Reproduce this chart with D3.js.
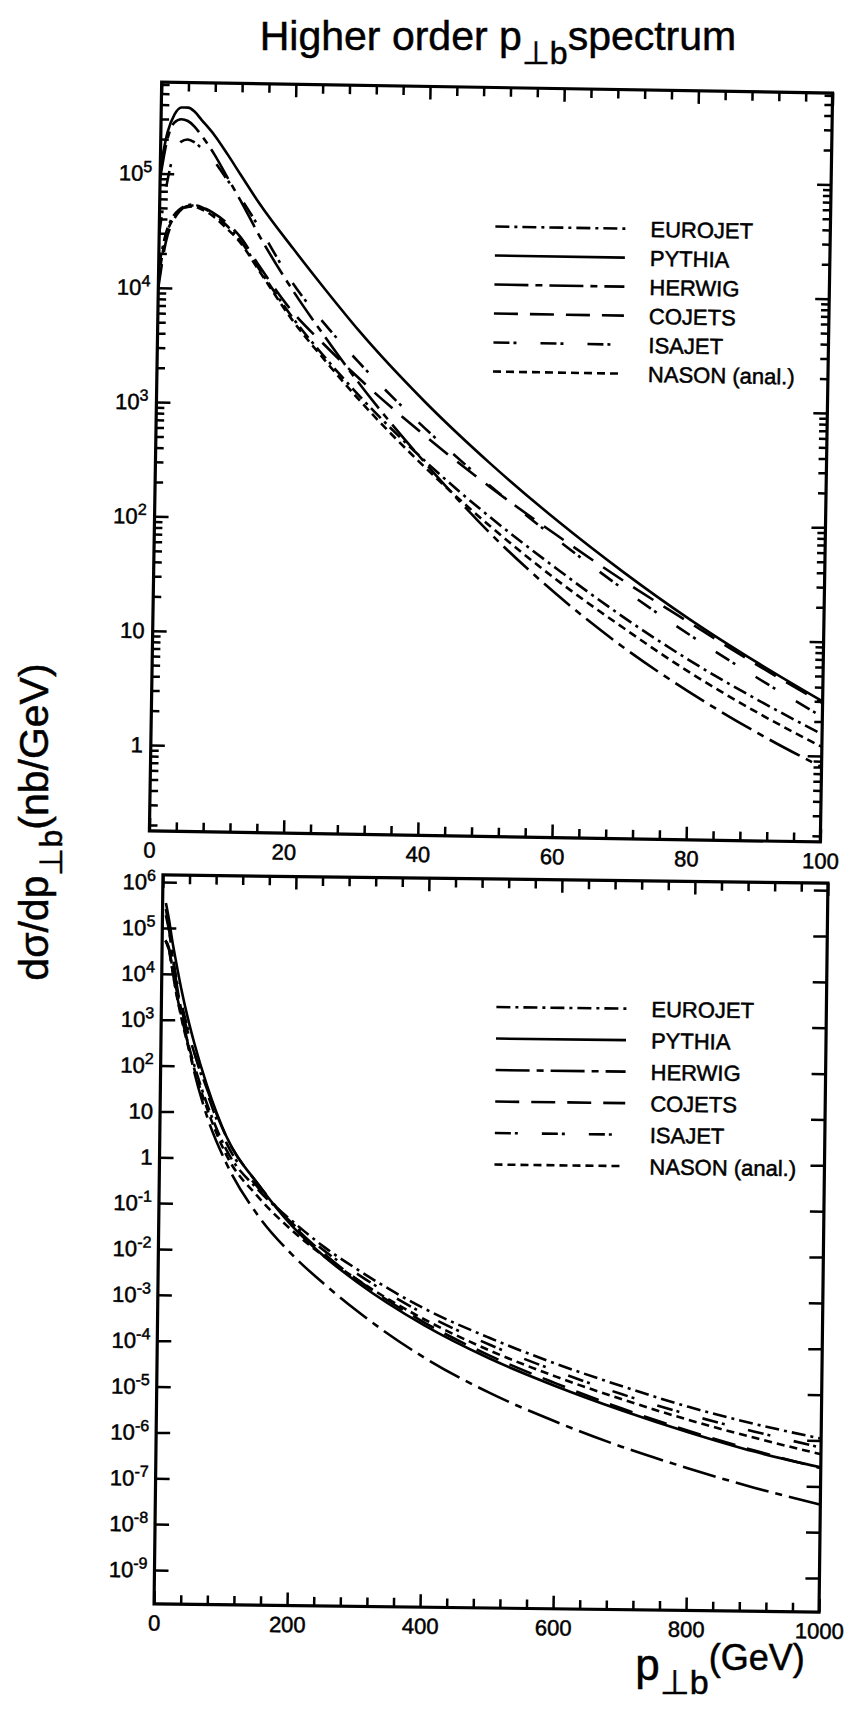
<!DOCTYPE html>
<html>
<head>
<meta charset="utf-8">
<script src="https://cdn.jsdelivr.net/npm/d3@7"></script>
<style>
  body { margin: 0; background: #fff; }
  svg { display: block; }
  text { font-family: "Liberation Sans", Arial, sans-serif; fill: #000; stroke: #000; stroke-width: 0.5px; }
</style>
</head>
<body>
<div id="chart"></div>
<script>
// series names and line styles
var names = ['EUROJET', 'PYTHIA', 'HERWIG', 'COJETS', 'ISAJET', 'NASON (anal.)'];
var dashes = ['14,5,3,5', null, '34,7,7,7', '24,12', '16,4,3,24', '8,5'];

// upper panel: p_Tb from 0 to 100 GeV
var topPt = [0, 1, 2, 3, 4, 5, 6, 8, 10, 12, 15, 20, 25, 30, 40, 50, 60, 70, 80, 90, 100];
var topEurojet = [1.5e4, 3e4, 4.2e4, 4.9e4, 5.3e4, 5.4e4, 5.2e4, 4.5e4, 3.6e4, 2.7e4, 1.5e4, 5.8e3, 2.6e3, 1.25e3, 340, 110, 40, 15.5, 6.6, 3.1, 1.55];
var topPythia = [1.1e5, 2.3e5, 3.3e5, 3.8e5, 3.8e5, 3.5e5, 3e5, 2.2e5, 1.5e5, 1e5, 5.5e4, 2.3e4, 1e4, 4.5e3, 1.1e3, 320, 105, 38, 15, 6.5, 3];
var topHerwig = [9e4, 2e5, 2.8e5, 3e5, 2.9e5, 2.6e5, 2.2e5, 1.5e5, 9.5e4, 6e4, 2.9e4, 1e4, 3.9e3, 1.6e3, 330, 80, 24, 8.5, 3.5, 1.6, 0.8];
var topCojets = [1e4, 2.5e4, 3.8e4, 4.7e4, 5.2e4, 5.3e4, 5.2e4, 4.6e4, 3.8e4, 2.9e4, 1.6e4, 6.5e3, 3.3e3, 1.75e3, 560, 200, 78, 32, 14, 6.2, 2.9];
var topIsajet = [3e4, 8e4, 1.5e5, 1.9e5, 2e5, 1.9e5, 1.7e5, 1.3e5, 9e4, 6.3e4, 3.4e4, 1.15e4, 5e3, 2.4e3, 650, 205, 72, 27, 11, 4.8, 2.2];
var topNason = [1.2e4, 2.8e4, 4e4, 4.8e4, 5.1e4, 5.2e4, 5e4, 4.3e4, 3.4e4, 2.6e4, 1.45e4, 5.5e3, 2.45e3, 1.15e3, 300, 92, 32, 12.5, 5.2, 2.4, 1.2];

// lower panel: p_Tb from 0 to 1000 GeV
var botPt = [5, 10, 15, 20, 30, 40, 50, 70, 100, 150, 200, 250, 300, 400, 500, 600, 700, 800, 900, 1000];
var botEurojet = [5.4e4, 3.6e4, 1.5e4, 5.8e3, 1.25e3, 340, 110, 15.5, 1.55, 0.2, 4.5e-2, 1.2e-2, 4e-3, 6e-4, 1.4e-4, 4e-5, 1.35e-5, 5e-6, 2.2e-6, 1.1e-6];
var botPythia = [3.5e5, 1.5e5, 5.5e4, 2.3e4, 4.5e3, 1.1e3, 320, 38, 3, 0.26, 3.5e-2, 7.5e-3, 2.1e-3, 2.6e-4, 5e-5, 1.3e-5, 4e-6, 1.4e-6, 5.5e-7, 2.6e-7];
var botHerwig = [2.6e5, 9.5e4, 2.9e4, 1e4, 1.6e3, 330, 80, 8.5, 0.8, 5.5e-2, 8.5e-3, 1.9e-3, 5e-4, 5.2e-5, 9e-6, 2.2e-6, 6.5e-7, 2.3e-7, 9e-8, 4e-8];
var botCojets = [5.3e4, 3.8e4, 1.6e4, 6.5e3, 1.75e3, 560, 200, 32, 2.9, 0.26, 3.8e-2, 8.5e-3, 2.4e-3, 3e-4, 5.8e-5, 1.5e-5, 4.4e-6, 1.5e-6, 5.8e-7, 2.5e-7];
var botIsajet = [1.9e5, 9e4, 3.4e4, 1.15e4, 2.4e3, 650, 205, 27, 2.2, 0.22, 4e-2, 1e-2, 3.2e-3, 4.6e-4, 1e-4, 2.8e-5, 9e-6, 3.4e-6, 1.5e-6, 7e-7];
var botNason = [5.2e4, 3.4e4, 1.45e4, 5.5e3, 1.15e3, 300, 92, 12.5, 1.2, 0.14, 2.8e-2, 7.5e-3, 2.4e-3, 3.5e-4, 7.5e-5, 2.1e-5, 7e-6, 2.6e-6, 1.1e-6, 5e-7];

var topSeries = [topEurojet, topPythia, topHerwig, topCojets, topIsajet, topNason];
var botSeries = [botEurojet, botPythia, botHerwig, botCojets, botIsajet, botNason];

var W = 846, H = 1712;
var svg = d3.select('#chart').append('svg').attr('width', W).attr('height', H);
svg.append('rect').attr('width', W).attr('height', H).attr('fill', '#fff');

// title
var title = svg.append('text').attr('x', 498).attr('y', 50)
  .attr('text-anchor', 'middle').style('font-size', '41px');
title.append('tspan').text('Higher order p');
title.append('tspan').attr('dy', 14).style('font-size', '32px').text('\u22a5b');
title.append('tspan').attr('dy', -14).text('spectrum');

// y axis title
var yl = svg.append('text').attr('transform', 'translate(48,822) rotate(-90)')
  .attr('text-anchor', 'middle').style('font-size', '41px');
yl.append('tspan').text('d\u03c3/dp');
yl.append('tspan').attr('dy', 14).style('font-size', '32px').text('\u22a5b');
yl.append('tspan').attr('dy', -14).text('(nb/GeV)');

// x axis title
var xl = svg.append('text').attr('x', 720).attr('y', 1680)
  .attr('text-anchor', 'middle').style('font-size', '44px');
xl.append('tspan').text('p');
xl.append('tspan').attr('dy', 14).style('font-size', '34px').text('\u22a5b');
xl.append('tspan').attr('dy', -24).style('font-size', '36px').text('(GeV)');

function supLabel(sel, v) {
  var e = Math.round(Math.log10(v));
  sel.text(null);
  if (e === 0) { sel.text('1'); return; }
  if (e === 1) { sel.text('10'); return; }
  sel.append('tspan').text('10');
  sel.append('tspan').attr('dy', '-0.55em').style('font-size', '16px').text(String(e));
}

function panel(cfg) {
  var cx = cfg.left + cfg.w / 2, cy = cfg.top + cfg.h / 2;
  var g = svg.append('g')
    .attr('transform', 'rotate(' + cfg.rot + ',' + cx + ',' + cy + ') translate(' + cfg.left + ',' + cfg.top + ')');
  var x = d3.scaleLinear().domain(cfg.xDomain).range([0, cfg.w]);
  var y = d3.scaleLog().domain(cfg.yDomain).range([cfg.h, 0]);

  g.append('clipPath').attr('id', cfg.id + 'clip')
    .append('rect').attr('width', cfg.w).attr('height', cfg.h);

  var line = d3.line()
    .x(function (d) { return x(d[0]); })
    .y(function (d) { return y(d[1]); })
    .curve(d3.curveMonotoneX);

  var curves = g.append('g').attr('clip-path', 'url(#' + cfg.id + 'clip)');
  cfg.series.forEach(function (vals, i) {
    var pts = cfg.xs.map(function (v, j) { return [v, vals[j]]; });
    curves.append('path')
      .attr('d', line(pts))
      .attr('fill', 'none')
      .attr('stroke', '#000')
      .attr('stroke-width', 2.6)
      .attr('stroke-dasharray', dashes[i]);
  });

  // minor / major ticks, all pointing inwards
  var decades = d3.range(Math.floor(Math.log10(cfg.yDomain[0])), Math.ceil(Math.log10(cfg.yDomain[1])) + 1);
  var majY = decades.map(function (d) { return Math.pow(10, d); })
    .filter(function (v) { return v >= cfg.yDomain[0] && v <= cfg.yDomain[1]; });
  var minY = [];
  if (cfg.minorY) {
    decades.forEach(function (d) {
      for (var k = 2; k < 10; k++) {
        var v = k * Math.pow(10, d);
        if (v > cfg.yDomain[0] && v < cfg.yDomain[1]) minY.push(v);
      }
    });
  }
  var majX = d3.range(cfg.xDomain[0], cfg.xDomain[1] + 1e-9, cfg.xMajor);
  var minX = d3.range(cfg.xDomain[0], cfg.xDomain[1] + 1e-9, cfg.xMinor)
    .filter(function (v) { return majX.indexOf(v) < 0; });

  function ticks(axis, vals, size, tr) {
    var a = g.append('g').attr('transform', tr)
      .call(axis.tickValues(vals).tickSize(-size).tickSizeOuter(0).tickFormat(''));
    a.select('.domain').remove();
    a.selectAll('line').attr('stroke', '#000').attr('stroke-width', 2.5);
    return a;
  }
  ticks(d3.axisLeft(y), minY, 8, null);
  ticks(d3.axisRight(y), minY, 8, 'translate(' + cfg.w + ',0)');
  ticks(d3.axisRight(y), majY, 14, 'translate(' + cfg.w + ',0)');
  ticks(d3.axisTop(x), minX, 9, null);
  ticks(d3.axisTop(x), majX, 13, null);
  ticks(d3.axisBottom(x), minX, 9, 'translate(0,' + cfg.h + ')');

  // labelled axes
  var xa = g.append('g').attr('transform', 'translate(0,' + cfg.h + ')')
    .call(d3.axisBottom(x).tickValues(majX).tickSize(-13).tickSizeOuter(0).tickPadding(11)
      .tickFormat(d3.format('d')));
  xa.select('.domain').remove();
  xa.selectAll('line').attr('stroke', '#000').attr('stroke-width', 2.5);
  xa.selectAll('text').style('font-size', '22px').attr('fill', '#000');

  var ya = g.append('g')
    .call(d3.axisLeft(y).tickValues(majY).tickSize(-14).tickSizeOuter(0).tickPadding(cfg.labelPad));
  ya.select('.domain').remove();
  ya.selectAll('line').attr('stroke', '#000').attr('stroke-width', 2.5);
  ya.selectAll('text').style('font-size', '22px').attr('fill', '#000')
    .each(function (v) { supLabel(d3.select(this), v); });

  // frame
  g.append('rect').attr('width', cfg.w).attr('height', cfg.h)
    .attr('fill', 'none').attr('stroke', '#000').attr('stroke-width', 3.2);

  // legend
  var lg = g.append('g').attr('transform', 'translate(' + cfg.legX + ',' + cfg.legY + ')');
  names.forEach(function (n, i) {
    var r = lg.append('g').attr('transform', 'translate(0,' + (i * cfg.legStep) + ')');
    r.append('line').attr('x1', 0).attr('x2', 130).attr('y1', 0).attr('y2', 0)
      .attr('stroke', '#000').attr('stroke-width', 2.6).attr('stroke-dasharray', dashes[i]);
    r.append('text').attr('x', 155).attr('y', 8).style('font-size', '22px').text(n);
  });
}

panel({
  id: 'top', left: 155.5, top: 87.5, w: 671, h: 749, rot: 0.94,
  xDomain: [0, 100], yDomain: [0.177, 6.3e5], xMajor: 20, xMinor: 4, minorY: true,
  xs: topPt, series: topSeries, labelPad: 8,
  legX: 336, legY: 139, legStep: 29
});

panel({
  id: 'bot', left: 158.5, top: 879, w: 665, h: 729, rot: 0.7,
  xDomain: [0, 1000], yDomain: [1.82e-10, 1.43e6], xMajor: 200, xMinor: 40, minorY: false,
  xs: botPt, series: botSeries, labelPad: 7,
  legX: 335, legY: 128, legStep: 31.5
});
</script>
</body>
</html>
